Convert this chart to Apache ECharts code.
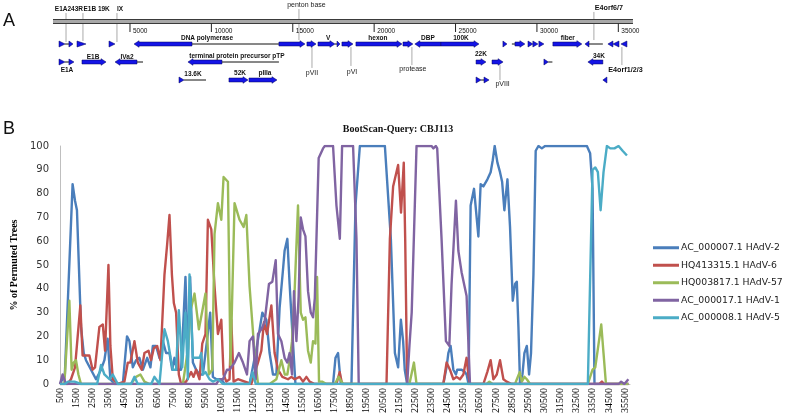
<!DOCTYPE html>
<html><head><meta charset="utf-8">
<script src="https://cdn.jsdelivr.net/npm/echarts/dist/echarts.min.js"></script>
<style>html,body{margin:0;padding:0;background:#fff}#c{width:787px;height:416px}</style>
</head><body><div id="c"></div>
<script>
// ---------------- Panel B data: bootscan (% of permuted trees) vs genome position (bp)
const seriesNames = ['AC_000007.1 HAdV-2','HQ413315.1 HAdV-6','HQ003817.1 HAdV-57','AC_000017.1 HAdV-1','AC_000008.1 HAdV-5'];
const seriesColors = ['#4a7ebb','#c0504d','#9bbb59','#8064a2','#4bacc6'];

const hadv2 = [[500,0],[800,4],[1280,84],[1430,77],[1550,73],[1800,24],[1970,13],[2110,10],[2420,6],[2730,2],[3040,6],[3250,10],[3450,19],[3620,2],[3870,0],[4390,0],[4650,20],[4800,18],[5010,7],[5210,10],[5420,11],[5630,6],[5900,11],[6100,7],[6250,16],[6450,16],[6660,11],[6870,18],[7070,13],[7280,13],[7450,6],[7590,11],[7740,6],[8000,6],[8270,45],[8420,11],[8560,45],[8730,9],[8930,6],[9140,4],[9350,4],[9600,18],[9800,30],[9970,3],[10180,2],[10490,2],[10690,0],[12240,0],[12700,16],[13030,30],[13280,27],[13480,13],[13690,4],[13900,4],[14100,32],[14310,48],[14410,56],[14580,61],[14720,42],[14870,24],[15080,0],[17410,0],[17560,11],[17720,13],[17890,0],[18550,0],[18800,75],[19070,100],[20620,100],[20990,61],[21240,13],[21440,7],[21610,27],[21750,18],[21850,6],[22000,0],[24240,0],[24440,7],[24550,13],[24690,16],[24860,6],[25020,4],[25100,6],[25370,6],[25580,5],[25680,4],[25800,0],[25930,75],[26140,82],[26260,82],[26410,62],[26550,84],[26720,83],[26970,86],[27170,89],[27300,94],[27420,100],[27590,93],[27750,89],[27880,85],[28020,73],[28210,86],[28370,66],[28540,35],[28680,42],[28790,43],[28890,24],[28990,0],[29140,4],[29260,13],[29410,16],[29550,4],[29670,13],[29820,46],[29960,98],[30130,100],[30340,99],[30540,100],[33130,100],[33330,97],[33480,82],[33600,0],[35700,0]];
const hadv6 = [[500,0],[970,0],[1180,2],[1430,7],[1550,7],[1760,33],[1900,12],[2110,12],[2320,12],[2520,6],[2670,7],[2940,24],[3150,25],[3290,14],[3500,50],[3620,16],[3770,2],[4080,0],[4490,1],[4700,9],[4860,9],[5110,18],[5320,9],[5560,6],[5730,13],[5980,14],[6140,10],[6310,15],[6520,16],[6720,10],[6970,46],[7140,59],[7280,71],[7430,46],[7550,34],[7690,30],[7860,4],[8000,0],[8310,1],[8620,5],[8770,3],[8930,6],[9140,2],[9310,17],[9510,21],[9660,69],[9870,65],[10070,41],[10280,21],[10490,27],[10630,4],[10800,1],[11000,2],[11110,27],[11250,1],[11520,2],[12350,0],[12760,9],[12970,14],[13130,26],[13320,21],[13590,33],[13790,13],[14000,6],[14270,3],[14620,2],[14830,3],[15030,2],[15340,3],[15550,1],[15760,3],[15960,1],[16270,0],[17620,0],[17820,5],[17970,0],[20720,0],[20930,61],[21130,83],[21440,92],[21620,72],[21790,93],[21880,60],[22000,0],[24240,0],[24440,9],[24650,6],[24860,2],[25060,3],[25270,2],[25480,4],[25680,11],[25790,4],[25890,0],[26720,0],[26960,5],[27170,10],[27340,2],[27550,4],[27750,10],[27960,2],[28160,1],[28470,0],[33900,0],[34060,1],[34200,0],[35700,0]];
const hadv57 = [[500,0],[770,0],[1080,35],[1220,6],[1350,9],[1490,10],[1640,4],[1800,0],[4900,0],[5210,3],[5480,4],[5730,1],[6040,0],[8110,0],[8430,15],[8560,30],[8830,38],[9100,23],[9350,32],[9510,38],[9720,4],[9930,6],[10070,63],[10280,76],[10490,69],[10630,87],[10900,85],[11060,8],[11310,76],[11620,69],[11870,66],[12040,71],[12240,41],[12550,13],[12760,0],[13480,0],[13900,2],[14210,10],[14420,4],[14580,4],[14720,10],[14870,18],[15030,39],[15240,75],[15410,30],[15550,27],[15700,28],[15860,14],[16030,9],[16170,18],[16320,17],[16420,45],[16540,1],[16730,1],[17000,0],[17520,0],[17760,3],[17930,1],[18050,0],[22140,0],[22420,9],[22580,0],[26920,0],[27090,1],[27300,0],[28680,0],[28850,3],[28970,5],[29100,1],[29260,3],[29410,2],[29610,0],[33190,0],[33480,6],[33650,7],[34020,25],[34160,13],[34310,0],[35700,0]];
const hadv1 = [[500,0],[660,4],[870,0],[10180,0],[10380,2],[10590,2],[10840,6],[11000,6],[11310,9],[11580,13],[11830,9],[12080,4],[12240,18],[12450,20],[12620,2],[12760,21],[12970,23],[13170,26],[13440,42],[13650,43],[13860,52],[14000,21],[14210,18],[14410,11],[14580,9],[14720,13],[14870,4],[14990,39],[15140,18],[15280,37],[15410,70],[15550,65],[15700,62],[15860,39],[16030,30],[16170,28],[16280,36],[16520,95],[16790,99],[16900,100],[17410,100],[17620,75],[17830,61],[17970,100],[18650,100],[18860,61],[19000,0],[22000,0],[22140,16],[22280,30],[22580,100],[23510,100],[23620,99],[23780,100],[23860,99],[24130,61],[24400,18],[24610,16],[24750,42],[25020,77],[25170,56],[25370,47],[25680,37],[25890,0],[35100,0],[35250,1],[35450,0],[35700,2]];
const hadv5 = [[500,0],[800,0],[1000,1],[1400,1],[1800,0],[2800,0],[3040,8],[3250,4],[3560,2],[3770,4],[4080,0],[4900,0],[5110,3],[5320,0],[6150,0],[6350,3],[6660,0],[6970,23],[7180,18],[7350,11],[7490,6],[7690,6],[7860,31],[8070,7],[8270,30],[8420,2],[8520,46],[8730,11],[8930,11],[9140,11],[9250,13],[9350,4],[9510,5],[9760,2],[9970,1],[10280,2],[10590,0],[12240,0],[12430,5],[12620,0],[33190,0],[33480,90],[33650,91],[33810,89],[33980,73],[34160,89],[34370,100],[34580,99],[34840,99],[35090,100],[35340,98],[35610,96]];
const seriesData = [hadv2, hadv6, hadv57, hadv1, hadv5];

// ---------------- Panel A data: genome map (bp), row, kind (R/L arrow, r/l triangle, '-' line)
const genomeSpan = [270, 35900];
const scaleTicks = [5000, 10000, 15000, 20000, 25000, 30000, 35000];
const mapFeatures = [
  [640,1010,0,'r'],[1010,1250,0,'-'],[1250,1500,0,'r'],[1745,2300,0,'r'],[3710,4080,0,'r'],
  [5250,8810,0,'L'],[8810,14150,0,'-'],[14150,15750,0,'R'],[15870,16430,0,'R'],
  [16550,17590,0,'R'],[17590,17720,0,'-'],[17720,17900,0,'r'],[18020,18700,0,'R'],
  [18880,21710,0,'R'],[21770,22380,0,'R'],[22500,24100,0,'L'],[24100,26440,0,'R'],
  [27910,28160,0,'r'],[28460,28650,0,'-'],[28650,29260,0,'R'],
  [29450,29750,0,'r'],[29750,30060,0,'r'],[30120,30430,0,'r'],[30980,32760,0,'R'],
  [32950,33200,0,'l'],[33200,34050,0,'-'],[34360,34670,0,'l'],[34670,35040,0,'l'],[35160,35530,0,'l'],
  [640,1010,1,'r'],[1010,1250,1,'-'],[1250,1560,1,'r'],[2050,3530,1,'R'],
  [4080,5430,1,'L'],[5430,5800,1,'-'],[8560,10650,1,'L'],[10650,14150,1,'-'],
  [26260,26870,1,'R'],[27240,27920,1,'R'],[30430,30700,1,'r'],[30700,30950,1,'-'],[33130,34050,1,'L'],
  [8010,8320,2,'r'],[8320,9670,2,'-'],[11080,12250,2,'R'],[12310,14030,2,'R'],
  [26260,26570,2,'r'],[26570,26750,2,'-'],[26750,27060,2,'r'],[34050,34300,2,'l']
];
// labels: text, bp, lane
const boldLabels = [
  ['E1A243R',1250,-1.94],['E1B 19K',2950,-1.94],['IX',4390,-1.94],
  ['DNA polymerase',9730,-0.33],['V',17180,-0.33],['hexon',20230,-0.33],['DBP',23300,-0.33],
  ['100K',25330,-0.33],['fiber',31900,-0.33],
  ['E1A',1130,1.44],['E1B',2730,0.72],['IVa2',4820,0.71],['terminal protein precursor pTP',11570,0.67],
  ['22K',26560,0.57],['34K',33810,0.67],['13.6K',8870,1.67],['52K',11760,1.61],['pIIIa',13290,1.61]
];
const plainLabels = [
  ['penton base',15840,-2.17],['pVII',16180,1.61],['pVI',18640,1.56],['protease',22380,1.39],['pVIII',27890,2.22]
];
const bigLabels = [['E4orf6/7',34420,-2.0],['E4orf1/2/3',35440,1.44]];
const leaders = [
  [1070,-1.72,-0.11],[2110,-1.72,-0.17],[4200,-1.72,-0.11],[15380,-1.94,-0.22],
  [16180,0.17,1.33],[18575,0.17,1.22],[22320,0.17,1.17],[27730,1.17,2.0],
  [33500,-1.78,-0.22],[35220,0.17,1.17]
];

// ---------------- rendering
const chart = echarts.init(document.getElementById('c'));
const GENE_FILL = '#1414e6', GENE_EDGE = '#00005a';

function geneShape(f, api) {
  const s = f[0], e = f[1], row = f[2], kind = f[3];
  const a = api.coord([s, row]), b = api.coord([e, row]);
  const y = a[1], x1 = a[0], x2 = b[0], w = x2 - x1;
  const st = {fill: GENE_FILL, stroke: GENE_EDGE, lineWidth: 0.5};
  if (kind === '-') return {type:'line', shape:{x1:x1, y1:y, x2:x2, y2:y}, style:{stroke:'#111', lineWidth:1}};
  if (kind === 'r') return {type:'polygon', shape:{points:[[x1,y-3],[x2,y],[x1,y+3]]}, style:st};
  if (kind === 'l') return {type:'polygon', shape:{points:[[x2,y-3],[x1,y],[x2,y+3]]}, style:st};
  const h = Math.min(5, w * 0.6);
  if (kind === 'R') return {type:'polygon', shape:{points:[[x1,y-2],[x2-h,y-2],[x2-h,y-3.3],[x2,y],[x2-h,y+3.3],[x2-h,y+2],[x1,y+2]]}, style:st};
  return {type:'polygon', shape:{points:[[x2,y-2],[x1+h,y-2],[x1+h,y-3.3],[x1,y],[x1+h,y+3.3],[x1+h,y+2],[x2,y+2]]}, style:st};
}

function labelSeries(list, font, color) {
  return {
    type:'custom', xAxisIndex:1, yAxisIndex:1, silent:true, z:5,
    data: list.map(function(l){ return [l[1], l[2]]; }),
    encode:{x:0, y:1},
    renderItem: function(params, api) {
      const p = api.coord([api.value(0), api.value(1)]);
      return {type:'text', x:p[0], y:p[1], style:{text:list[params.dataIndex][0], fill:color, font:font, align:'center', verticalAlign:'middle'}};
    }
  };
}

const lineSeries = seriesNames.map(function(n, i) {
  return {
    type:'line', name:n, data:seriesData[i], xAxisIndex:0, yAxisIndex:0,
    showSymbol:false, symbol:'none', z:2 + i,
    lineStyle:{width:2.4, color:seriesColors[i], join:'round'},
    itemStyle:{color:seriesColors[i]}
  };
});

const option = {
  animation:false,
  backgroundColor:'#fff',
  grid:[
    {left:60, top:146, width:570, height:238},
    {left:48.6, top:8, width:586, height:90}
  ],
  xAxis:[
    {type:'value', gridIndex:0, min:500, max:35800, interval:1000,
     axisLine:{show:true, lineStyle:{color:'#bfbfbf', width:1}}, axisTick:{show:false}, splitLine:{show:false},
     axisLabel:{rotate:90, margin:4, fontFamily:'Liberation Serif', fontSize:10, color:'#000', showMaxLabel:false, showMinLabel:true,
       formatter:function(v){ return String(v); }}},
    {type:'value', gridIndex:1, min:0, max:36000, show:false}
  ],
  yAxis:[
    {type:'value', gridIndex:0, min:0, max:100, interval:10,
     axisLine:{show:true, lineStyle:{color:'#bfbfbf', width:1}}, axisTick:{show:false}, splitLine:{show:false},
     axisLabel:{margin:11, fontFamily:'DejaVu Sans', fontSize:10, color:'#333'},
     name:'% of Permuted Trees', nameLocation:'middle', nameGap:40,
     nameTextStyle:{fontFamily:'Liberation Serif', fontWeight:'bold', fontSize:10, color:'#000'}},
    {type:'value', gridIndex:1, min:-2, max:3, inverse:true, show:false}
  ],
  legend:{
    data:seriesNames, orient:'vertical', left:648, top:236.5, itemWidth:26, itemHeight:3, icon:'rect', itemGap:5,
    textStyle:{fontFamily:'DejaVu Sans', fontSize:9.3, color:'#222', lineHeight:12.5, padding:[0,0,0,-3]}
  },
  graphic:[
    {type:'text', x:3, y:12, style:{text:'A', font:'18px "Liberation Sans"', fill:'#111'}},
    {type:'text', x:3, y:120, style:{text:'B', font:'18px "Liberation Sans"', fill:'#111'}},
    {type:'text', x:398, y:129, style:{text:'BootScan-Query: CBJ113', font:'bold 10px "Liberation Serif"', fill:'#111', align:'center', verticalAlign:'middle'}}
  ],
  series: lineSeries.concat([
    { // genome scale bar
      type:'custom', xAxisIndex:1, yAxisIndex:1, silent:true, z:3,
      data:[genomeSpan], encode:{x:[0,1]},
      renderItem:function(params, api) {
        const a = api.coord([api.value(0), -1.25]), b = api.coord([api.value(1), -1.25]);
        const y = a[1];
        return {type:'group', children:[
          {type:'rect', shape:{x:a[0], y:y-2, width:b[0]-a[0], height:4}, style:{fill:'#a8a8a8'}},
          {type:'line', shape:{x1:a[0], y1:y-2, x2:b[0], y2:y-2}, style:{stroke:'#3a3a3a', lineWidth:1.1}},
          {type:'line', shape:{x1:a[0], y1:y+2, x2:b[0], y2:y+2}, style:{stroke:'#3a3a3a', lineWidth:1.1}}
        ]};
      }
    },
    { // scale ticks + labels
      type:'custom', xAxisIndex:1, yAxisIndex:1, silent:true, z:3,
      data:scaleTicks.map(function(t){return [t];}), encode:{x:0},
      renderItem:function(params, api) {
        const a = api.coord([api.value(0), -1.25]);
        const y = a[1];
        return {type:'group', children:[
          {type:'line', shape:{x1:a[0], y1:y+2, x2:a[0], y2:y+10.5}, style:{stroke:'#222', lineWidth:1}},
          {type:'text', x:a[0]+3, y:y+9.5, style:{text:String(api.value(0)), font:'6.5px "Liberation Sans"', fill:'#111', align:'left', verticalAlign:'middle'}}
        ]};
      }
    },
    { // leader lines
      type:'custom', xAxisIndex:1, yAxisIndex:1, silent:true, z:2,
      data:leaders, encode:{x:0, y:[1,2]},
      renderItem:function(params, api) {
        const a = api.coord([api.value(0), api.value(1)]), b = api.coord([api.value(0), api.value(2)]);
        return {type:'line', shape:{x1:a[0], y1:a[1], x2:b[0], y2:b[1]}, style:{stroke:'#a0a0a0', lineWidth:0.9}};
      }
    },
    { // genes
      type:'custom', xAxisIndex:1, yAxisIndex:1, silent:true, z:4,
      data:mapFeatures.map(function(f){return [f[0], f[1], f[2]];}), encode:{x:[0,1], y:2},
      renderItem:function(params, api) { return geneShape(mapFeatures[params.dataIndex], api); }
    },
    labelSeries(boldLabels, 'bold 6.5px "Liberation Sans"', '#111'),
    labelSeries(plainLabels, '7px "Liberation Sans"', '#222'),
    labelSeries(bigLabels, 'bold 7.2px "Liberation Sans"', '#111')
  ])
};
chart.setOption(option);
</script></body></html>
